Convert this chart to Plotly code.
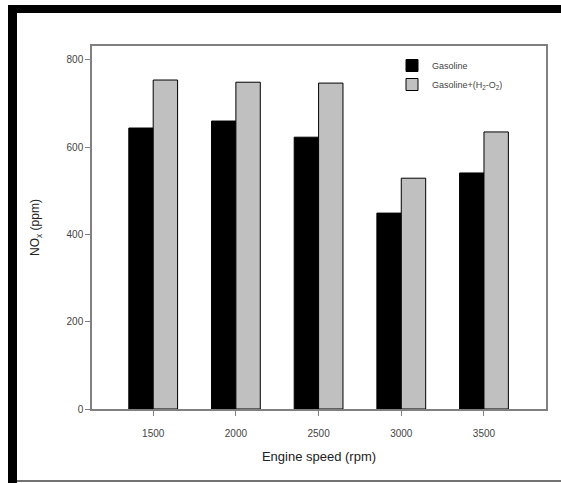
import plotly.graph_objects as go

speeds = ["1500", "2000", "2500", "3000", "3500"]
gasoline = [644, 660, 623, 449, 541]
gasoline_h2o2 = [754, 749, 747, 529, 635]

W, H = 561, 483
L, R, T, B = 92, 15, 46, 74
pw = W - L - R
ph = H - T - B

def px(x):
    return (x - L) / pw

def py(y):
    return (H - B - y) / ph

fig = go.Figure()
fig.add_trace(go.Bar(x=speeds, y=gasoline, name="Gasoline",
                     marker=dict(color="#000000", line=dict(color="#000000", width=1))))
fig.add_trace(go.Bar(x=speeds, y=gasoline_h2o2, name="Gasoline+(H<sub>2</sub>-O<sub>2</sub>)",
                     marker=dict(color="#c0c0c0", line=dict(color="#000000", width=1))))

axis_col = "#808080"
fig.update_layout(
    width=W, height=H,
    margin=dict(l=L, r=R, t=T, b=B),
    paper_bgcolor="white", plot_bgcolor="white",
    barmode="group", bargap=0.41, bargroupgap=0,
    font=dict(family="Liberation Sans, Arial, sans-serif", color="#333333", size=10),
    showlegend=True,
    legend=dict(x=px(392), y=py(51), xanchor="left", yanchor="top",
                bgcolor="rgba(0,0,0,0)", font=dict(size=9, color="#444444"),
                itemwidth=30, tracegroupgap=0),
    xaxis=dict(type="category", range=[-0.74, 4.75], showline=True, linecolor=axis_col,
               linewidth=1.5, mirror=True, ticks="outside", ticklen=5, tickcolor=axis_col,
               tickfont=dict(size=10, color="#444444"), ticklabelstandoff=9,
               title=dict(text="Engine speed (rpm)", font=dict(size=13, color="#222222"), standoff=14),
               showgrid=False, zeroline=False),
    yaxis=dict(range=[0, 832], tickvals=[0, 200, 400, 600, 800], showline=True, linecolor=axis_col,
               linewidth=1.5, mirror=True, ticks="outside", ticklen=5, tickcolor=axis_col,
               tickfont=dict(size=10, color="#444444"),
               title=dict(text="NO<sub>x</sub> (ppm)", font=dict(size=12, color="#222222"), standoff=24),
               showgrid=False, zeroline=False),
    shapes=[
        dict(type="rect", xref="paper", yref="paper", x0=px(8), x1=px(17), y0=py(483), y1=py(5),
             fillcolor="black", line=dict(width=0), layer="above"),
        dict(type="rect", xref="paper", yref="paper", x0=px(8), x1=px(561), y0=py(13), y1=py(5),
             fillcolor="black", line=dict(width=0), layer="above"),
        dict(type="line", xref="paper", yref="paper", x0=px(17), x1=px(561), y0=py(481), y1=py(481),
             line=dict(color="#444444", width=1.5), layer="above"),
    ],
)

fig.write_html("out.html")
